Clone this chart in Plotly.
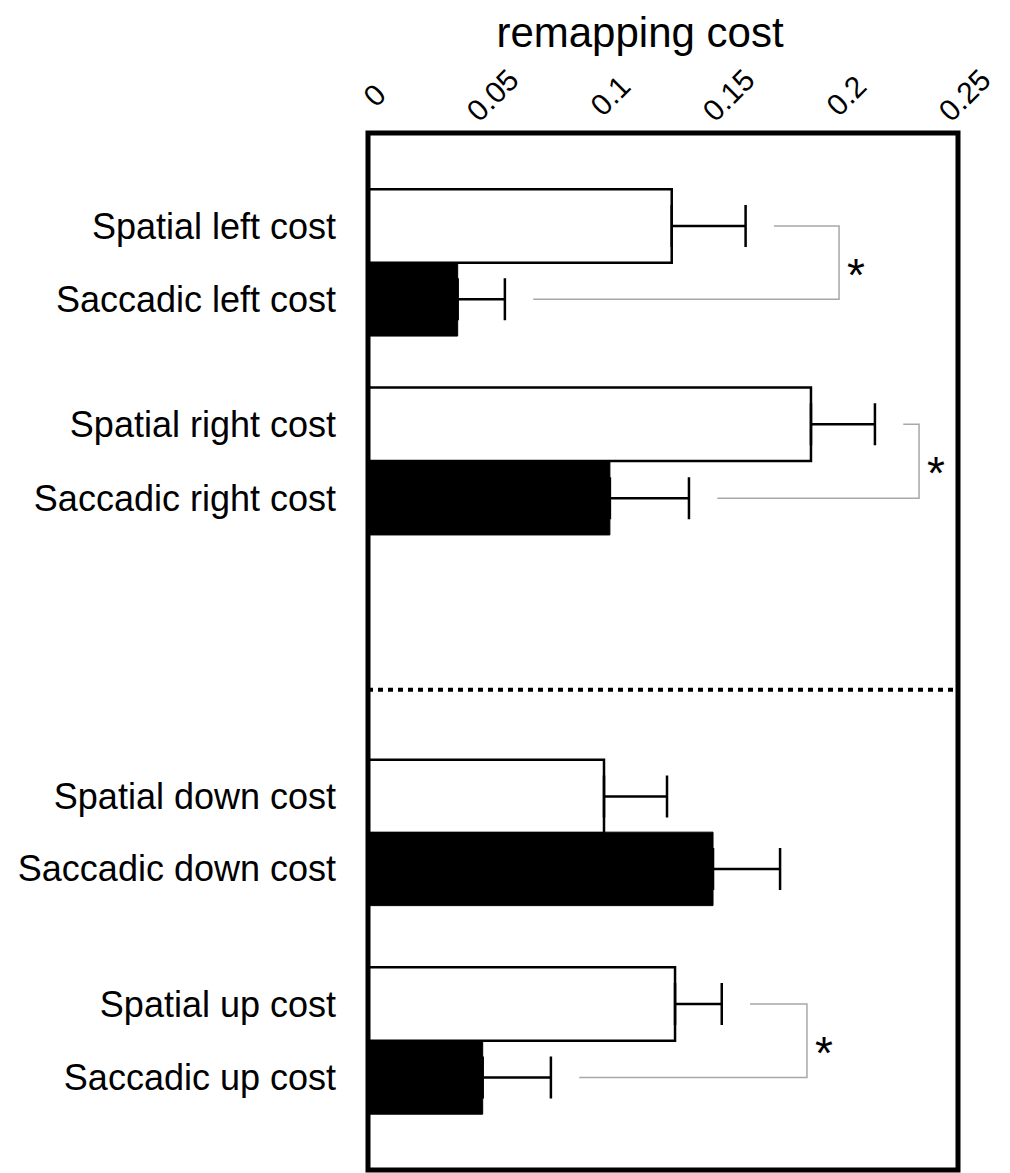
import plotly.graph_objects as go

# ---- data ----
categories = ["Spatial left cost", "Saccadic left cost",
              "Spatial right cost", "Saccadic right cost",
              "Spatial down cost", "Saccadic down cost",
              "Spatial up cost", "Saccadic up cost"]
spatial_vals = [0.1287, 0.1877, 0.1000, 0.1301]
spatial_err = [0.0313, 0.0271, 0.0267, 0.0198]
saccadic_vals = [0.0380, 0.1025, 0.1462, 0.0486]
saccadic_err = [0.0200, 0.0335, 0.0284, 0.0289]
x_ticks = [0, 0.05, 0.1, 0.15, 0.2, 0.25]
x_ticktext = ["0", "0.05", "0.1", "0.15", "0.2", "0.25"]

# ---- layout constants (slot positions along the category axis) ----
spatial_pos = [1.265, 3.966, 9.034, 11.86]
saccadic_pos = [2.265, 4.973, 10.02, 12.86]
y_max = 14.12
divider_pos = 7.58
# significance brackets: (pair index, bracket x)
sig_pairs = [0, 1, 3]
sig_x = [0.1996, 0.2335, 0.1860]

FONT = "Liberation Sans, Arial, sans-serif"

fig = go.Figure()
fig.add_trace(go.Bar(
    x=spatial_vals, y=spatial_pos, orientation="h", width=1.0,
    marker=dict(color="white", line=dict(color="black", width=2.5)),
    error_x=dict(type="data", array=spatial_err, arrayminus=[0] * 4, symmetric=False,
                 color="black", thickness=2.5, width=21),
    showlegend=False, hoverinfo="x+y"))
fig.add_trace(go.Bar(
    x=saccadic_vals, y=saccadic_pos, orientation="h", width=1.0,
    marker=dict(color="black", line=dict(color="black", width=1)),
    error_x=dict(type="data", array=saccadic_err, arrayminus=[0] * 4, symmetric=False,
                 color="black", thickness=2.5, width=21),
    showlegend=False, hoverinfo="x+y"))

shapes = []
annotations = []
gap = 0.012
for idx, bx in zip(sig_pairs, sig_x):
    sp_end = spatial_vals[idx] + spatial_err[idx] + gap
    sa_end = saccadic_vals[idx] + saccadic_err[idx] + gap
    y1 = spatial_pos[idx]
    y2 = saccadic_pos[idx]
    shapes.append(dict(type="path", xref="x", yref="y",
                       path=f"M {sp_end},{y1} L {bx},{y1} L {bx},{y2} L {sa_end},{y2}",
                       line=dict(color="#a8a8a8", width=1.5)))
    annotations.append(dict(x=bx, y=(y1 + y2) / 2, xref="x", yref="y", text="*",
                            showarrow=False, xanchor="left", xshift=6, yshift=-12,
                            font=dict(size=46, color="black", family=FONT)))

# rotated x tick labels (centered over their tick)
for tv, tt in zip(x_ticks, x_ticktext):
    annotations.append(dict(x=tv, y=1, xref="x", yref="paper", text=tt,
                            showarrow=False, textangle=-45, xanchor="center",
                            yanchor="middle", yshift=38, xshift=6,
                            font=dict(size=30, color="black", family=FONT)))

# dotted divider
shapes.append(dict(type="line", xref="paper", yref="y", x0=0, x1=1,
                   y0=divider_pos, y1=divider_pos,
                   line=dict(color="black", width=4, dash="5px,5px")))
# frame
shapes.append(dict(type="rect", xref="paper", yref="paper", x0=0, x1=1, y0=0, y1=1,
                   line=dict(color="black", width=5), layer="above"))

fig.update_layout(
    width=1002, height=1165,
    margin=dict(l=360, r=52, t=125, b=3, autoexpand=False),
    paper_bgcolor="white", plot_bgcolor="white",
    barmode="overlay",
    shapes=shapes, annotations=annotations,
    title=dict(text="remapping cost", x=632 / 1002, xanchor="center",
               y=1 - 24 / 1165, yanchor="middle",
               font=dict(size=42, color="black", family=FONT)),
    xaxis=dict(side="top", range=[0, 0.25], tickvals=x_ticks,
               showticklabels=False, automargin=False,
               showgrid=False, zeroline=False, showline=False, ticks=""),
    yaxis=dict(range=[y_max, 0], tickvals=spatial_pos + saccadic_pos,
               ticktext=[categories[0], categories[2], categories[4], categories[6],
                         categories[1], categories[3], categories[5], categories[7]],
               showgrid=False, zeroline=False, showline=False, ticks="",
               automargin=False, ticklabelstandoff=31,
               tickfont=dict(size=36, color="black", family=FONT)),
)

fig.write_html("out.html")
